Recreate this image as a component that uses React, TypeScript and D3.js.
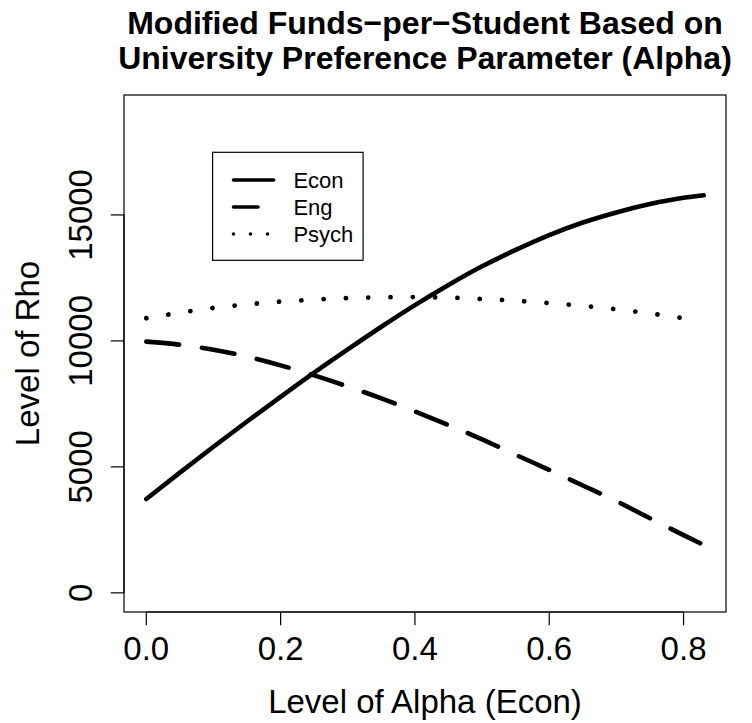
import React from 'react';
import * as d3 from 'd3';

// ---- data ----
const alpha = [0, 0.05, 0.1, 0.15, 0.2, 0.25, 0.3, 0.35, 0.4, 0.45, 0.5, 0.55, 0.6, 0.65, 0.7, 0.75, 0.8, 0.83];
const econ = [3725, 4770, 5800, 6800, 7780, 8740, 9660, 10560, 11420, 12220, 12960, 13610, 14200, 14700, 15100, 15430, 15680, 15780];
const eng = [9970, 9850, 9650, 9380, 9030, 8630, 8190, 7720, 7200, 6660, 6090, 5480, 4880, 4260, 3640, 2960, 2290, 1900];
const psychAlpha = [0, 0.05, 0.1, 0.15, 0.2, 0.25, 0.3, 0.35, 0.4, 0.45, 0.5, 0.55, 0.6, 0.65, 0.7, 0.75, 0.8];
const psych = [10900, 11120, 11310, 11450, 11560, 11640, 11700, 11730, 11740, 11715, 11665, 11595, 11500, 11390, 11255, 11090, 10900];

const xTicks = [0, 0.2, 0.4, 0.6, 0.8];
const yTicks = [0, 5000, 10000, 15000];
const seriesNames = ['Econ', 'Eng', 'Psych'];
const titleLines = ['Modified Funds\u2212per\u2212Student Based on', 'University Preference Parameter (Alpha)'];
const xLabel = 'Level of Alpha (Econ)';
const yLabel = 'Level of Rho';

const W = 752;
const H = 723;
const FONT = '"Liberation Sans", Arial, Helvetica, sans-serif';

export default function App() {
  const left = 124, right = 726, top = 95, bottom = 612;
  const x = d3.scaleLinear().domain([-0.0332, 0.8632]).range([left, right]);
  const y = d3.scaleLinear().domain([-760, 19760]).range([bottom, top]);
  const cx = (left + right) / 2;
  const cy = (top + bottom) / 2;

  const line = d3
    .line<[number, number]>()
    .x((d) => x(d[0]))
    .y((d) => y(d[1]))
    .curve(d3.curveMonotoneX);

  const econPts = alpha.map((a, i) => [a, econ[i]] as [number, number]);
  const engPts = alpha.map((a, i) => [a, eng[i]] as [number, number]);
  const psychPts = psychAlpha.map((a, i) => [a, psych[i]] as [number, number]);

  const styles = [
    { dash: undefined as string | undefined, ldash: undefined as string | undefined },
    { dash: '33 23', ldash: '24.5 18' },
    { dash: '0.01 22.3', ldash: '0.01 17' },
  ];

  const tickLen = 13.25;
  const fmtX = d3.format('.1f');

  // legend geometry
  const lg = { x0: 212.6, x1: 363.1, y0: 152.3, y1: 260.3 };
  const rowY = [180, 207, 234];

  return (
    <svg
      width={W}
      height={H}
      viewBox={`0 0 ${W} ${H}`}
      style={{ position: 'absolute', left: 0, top: 0, display: 'block', background: '#fff' }}
      fontFamily={FONT}
    >
      <rect x={0} y={0} width={W} height={H} fill="#fff" />
      {/* title */}
      {titleLines.map((t, i) => (
        <text key={i} x={cx} y={33.5 + i * 35} textAnchor="middle" fontSize={32} fontWeight="bold" fill="#000">
          {t}
        </text>
      ))}

      {/* series */}
      <path d={line(econPts) || ''} fill="none" stroke="#000" strokeWidth={4.6} strokeLinecap="round" strokeLinejoin="round" />
      <path d={line(engPts) || ''} fill="none" stroke="#000" strokeWidth={4.6} strokeLinecap="round" strokeLinejoin="round" strokeDasharray={styles[1].dash} />
      <path d={line(psychPts) || ''} fill="none" stroke="#000" strokeWidth={4.8} strokeLinecap="round" strokeLinejoin="round" strokeDasharray={styles[2].dash} />

      {/* box */}
      <rect x={left} y={top} width={right - left} height={bottom - top} fill="none" stroke="#000" strokeWidth={1.2} />

      {/* x axis */}
      <line x1={x(xTicks[0])} x2={x(xTicks[xTicks.length - 1])} y1={bottom} y2={bottom} stroke="#000" strokeWidth={1.2} />
      {xTicks.map((t) => (
        <g key={t}>
          <line x1={x(t)} x2={x(t)} y1={bottom} y2={bottom + tickLen} stroke="#000" strokeWidth={1.2} />
          <text x={x(t)} y={660} textAnchor="middle" fontSize={33} fill="#000">
            {fmtX(t)}
          </text>
        </g>
      ))}
      <text x={cx} y={713} textAnchor="middle" fontSize={33} fill="#000">
        {xLabel}
      </text>

      {/* y axis */}
      <line x1={left} x2={left} y1={y(yTicks[0])} y2={y(yTicks[yTicks.length - 1])} stroke="#000" strokeWidth={1.2} />
      {yTicks.map((t) => (
        <g key={t}>
          <line x1={left - tickLen} x2={left} y1={y(t)} y2={y(t)} stroke="#000" strokeWidth={1.2} />
          <text transform={`translate(92,${y(t)}) rotate(-90)`} textAnchor="middle" fontSize={33} fill="#000">
            {String(t)}
          </text>
        </g>
      ))}
      <text transform={`translate(39,${cy}) rotate(-90)`} textAnchor="middle" fontSize={33} fill="#000">
        {yLabel}
      </text>

      {/* legend */}
      <rect x={lg.x0} y={lg.y0} width={lg.x1 - lg.x0} height={lg.y1 - lg.y0} fill="#fff" stroke="#000" strokeWidth={1.2} />
      {seriesNames.map((n, i) => (
        <g key={n}>
          <line
            x1={233.5}
            x2={273.6}
            y1={rowY[i]}
            y2={rowY[i]}
            stroke="#000"
            strokeWidth={3.6}
            strokeLinecap="round"
            strokeDasharray={styles[i].ldash}
          />
          <text x={293.4} y={rowY[i] + 8} fontSize={22} fill="#000">
            {n}
          </text>
        </g>
      ))}
    </svg>
  );
}
